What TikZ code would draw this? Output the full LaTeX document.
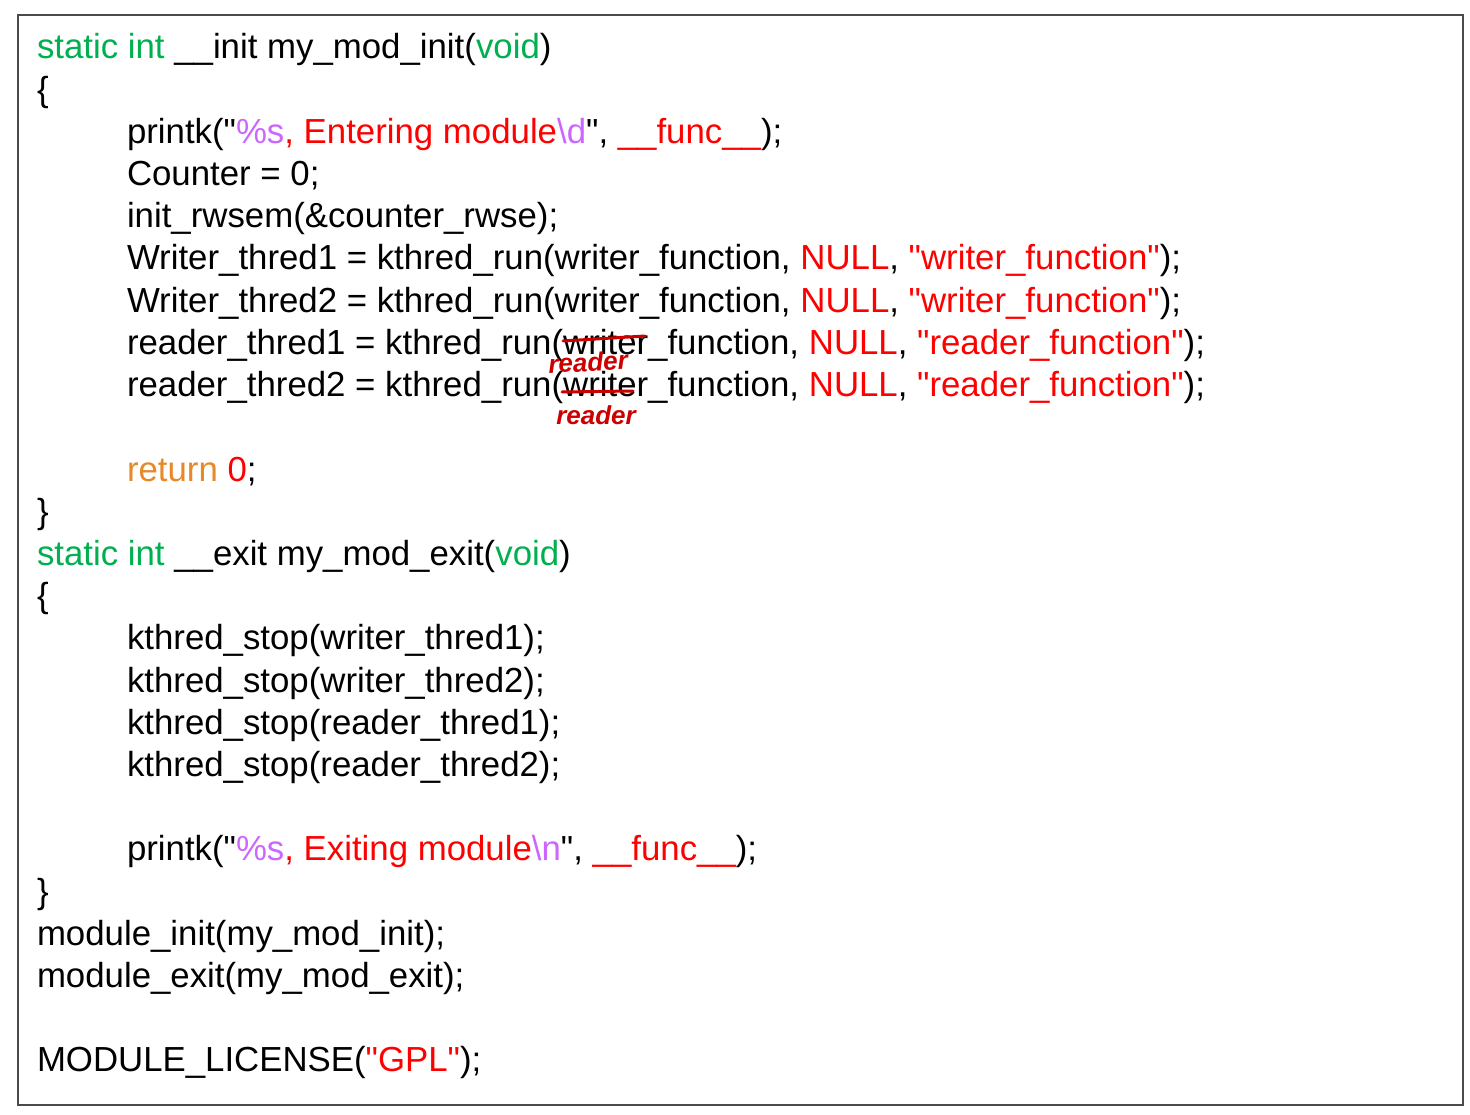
\documentclass[tikz,border=0pt]{standalone}
\usepackage{fontspec}
\setmainfont{Liberation Sans}[Ligatures=TeXOff]
\newfontfamily\handfont{Liberation Sans}[Ligatures=TeXOff]
\usetikzlibrary{calc}

\definecolor{kwgreen}{RGB}{0,176,80}
\definecolor{fmtpink}{RGB}{204,102,255}
\definecolor{strred}{RGB}{255,0,0}
\definecolor{retorange}{RGB}{230,137,40}
\definecolor{penred}{RGB}{205,0,0}
\definecolor{framegray}{RGB}{75,75,75}

\newcommand{\kwtxt}[1]{\textcolor{kwgreen}{#1}}
\newcommand{\strtxt}[1]{\textcolor{strred}{#1}}
\newcommand{\fmttxt}[1]{\textcolor{fmtpink}{#1}}

\begin{document}
\begin{tikzpicture}[x=1pt,y=-1pt,
    code/.style={anchor=base west, inner sep=0pt, outer sep=0pt, font=\fontsize{34.8}{42}\selectfont},
    pen/.style={penred, line width=3pt, line cap=round},
    hand/.style={penred, inner sep=0pt, font=\handfont\bfseries\itshape\fontsize{26}{26}\selectfont}]
    % Page and frame
    \useasboundingbox (0,0) rectangle (1470,1115);
    \draw[framegray, line width=2pt] (18,15) rectangle (1463,1105);
    % Init function
    \node[code] (inithead)  at (37,59)    {\kwtxt{static int} \_\_init my\_mod\_init(\kwtxt{void})};
    \node[code] (initopen)  at (37,101.2) {\{};
    \node[code] (initprint) at (127,143.4) {printk("\fmttxt{\%s}\strtxt{, Entering module}\fmttxt{\textbackslash d}", \strtxt{\_\_func\_\_});};
    \node[code] (counter)   at (127,185.6) {Counter = 0;};
    \node[code] (rwsem)     at (127,227.8) {init\_rwsem(\&counter\_rwse);};
    \node[code] (writer1)   at (127,270)   {Writer\_thred1 = kthred\_run(writer\_function, \strtxt{NULL}, \strtxt{"writer\_function"});};
    \node[code] (writer2)   at (127,312.2) {Writer\_thred2 = kthred\_run(writer\_function, \strtxt{NULL}, \strtxt{"writer\_function"});};
    \node[code] (reader1)   at (127,354.4) {reader\_thred1 = kthred\_run(writer\_function, \strtxt{NULL}, \strtxt{"reader\_function"});};
    \node[code] (reader2)   at (127,396.6) {reader\_thred2 = kthred\_run(writer\_function, \strtxt{NULL}, \strtxt{"reader\_function"});};
    \node[code] (initret)   at (127,481)   {\textcolor{retorange}{return} \strtxt{0};};
    \node[code] (initclose) at (37,523.2)  {\}};
    % Exit function
    \node[code] (exithead)  at (37,565.4)  {\kwtxt{static int} \_\_exit my\_mod\_exit(\kwtxt{void})};
    \node[code] (exitopen)  at (37,607.6)  {\{};
    \node[code] (stopw1)    at (127,649.8) {kthred\_stop(writer\_thred1);};
    \node[code] (stopw2)    at (127,692)   {kthred\_stop(writer\_thred2);};
    \node[code] (stopr1)    at (127,734.2) {kthred\_stop(reader\_thred1);};
    \node[code] (stopr2)    at (127,776.4) {kthred\_stop(reader\_thred2);};
    \node[code] (exitprint) at (127,860.8) {printk("\fmttxt{\%s}\strtxt{, Exiting module}\fmttxt{\textbackslash n}", \strtxt{\_\_func\_\_});};
    \node[code] (exitclose) at (37,903)    {\}};
    % Registration
    \node[code] (modinit)   at (37,945.2)  {module\_init(my\_mod\_init);};
    \node[code] (modexit)   at (37,987.4)  {module\_exit(my\_mod\_exit);};
    \node[code] (license)   at (37,1071.8) {MODULE\_LICENSE(\strtxt{"GPL"});};
    % Handwritten corrections
    \draw[pen] (563,341) -- (645,336);   % first writer struck out
    \draw[pen] (562,392) -- (633,391);   % second writer struck out
    \node[hand, rotate=3] (fix1) at (588,362) {reader};
    \node[hand]           (fix2) at (596,415) {reader};
\end{tikzpicture}
\end{document}
